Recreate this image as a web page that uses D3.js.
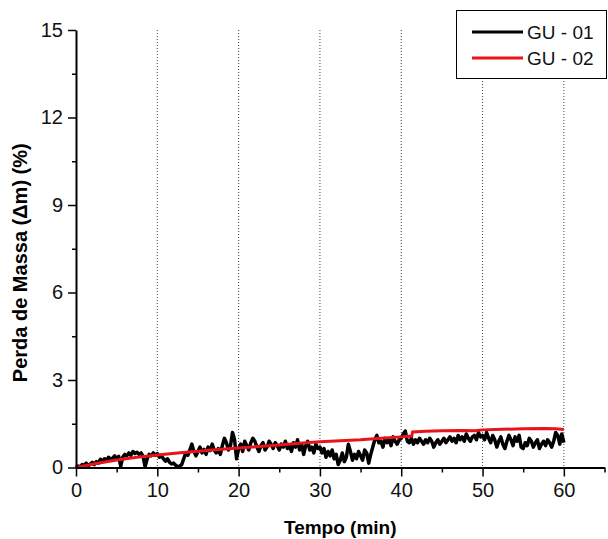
<!DOCTYPE html>
<html>
<head>
<meta charset="utf-8">
<script src="https://cdn.jsdelivr.net/npm/d3@7"></script>
<style>
  body { margin: 0; background: #fff; }
  svg { display: block; font-family: "Liberation Sans", Arial, sans-serif; }
</style>
</head>
<body>
<div id="chart"></div>
<script>
// GU - 01 : one value every 0.25 min
const blackStart = 0;
const blackStep = 0.25;
const blackValues = [
  0.00,0.05,0.02,0.10,0.08,0.15,0.05,0.12,0.18,0.10,0.20,0.15,0.28,0.22,0.30,0.25,0.35,0.28,0.32,0.40,
  0.30,0.38,0.05,0.35,0.45,0.40,0.50,0.42,0.55,0.48,0.52,0.45,0.50,0.38,0.02,0.30,0.45,0.40,0.50,0.42,
  0.48,0.35,0.40,0.30,0.22,0.30,0.18,0.12,0.15,0.08,0.02,0.05,0.10,0.30,0.50,0.42,0.60,0.80,0.55,0.40,
  0.55,0.70,0.50,0.62,0.45,0.70,0.58,0.80,0.60,0.50,0.65,0.45,0.75,1.00,0.85,0.60,0.75,1.20,0.95,0.30,
  0.65,0.80,0.55,0.90,0.75,0.60,0.85,1.00,0.90,0.70,0.55,0.75,0.85,0.60,0.70,0.90,0.80,0.65,0.85,0.75,
  0.60,0.80,0.70,0.90,0.65,0.75,0.55,0.85,0.70,0.95,0.60,0.80,0.45,0.75,0.90,0.60,0.70,0.50,0.80,0.65,
  0.70,0.50,0.65,0.35,0.55,0.40,0.60,0.30,0.45,0.10,0.25,0.50,0.20,0.35,0.80,0.55,0.25,0.45,0.30,0.55,
  0.40,0.25,0.60,0.50,0.15,0.45,0.70,0.95,1.10,0.85,0.90,0.70,1.00,0.85,0.95,0.75,1.05,0.90,0.80,0.95,
  1.00,1.15,1.25,0.90,0.85,1.00,0.80,0.95,0.85,1.00,0.90,0.80,0.95,0.85,1.00,0.90,0.70,0.85,0.95,0.80,
  0.90,1.00,0.85,0.95,1.05,0.90,1.00,0.85,1.10,0.95,1.05,0.90,1.15,1.00,0.90,1.05,1.10,0.95,1.20,1.05,
  1.10,0.95,1.20,1.00,0.85,1.10,0.95,0.70,0.90,1.05,0.80,0.65,0.90,1.10,0.95,0.75,1.05,0.90,1.10,0.70,
  0.65,0.85,0.75,1.00,0.90,0.70,0.85,0.95,0.65,0.80,0.90,0.75,0.95,0.85,0.70,0.90,1.20,1.10,0.80,1.15,
  0.85
];

// GU - 02
const redTime = [0,2.5,5,7.5,10,12.5,15,17.5,20,22.5,25,27.5,30,32.5,35,37.5,40,41.3,41.4,43,45,47.5,49,50,52.5,55,57.5,59,60];
const redValues = [0,0.14,0.26,0.35,0.43,0.50,0.56,0.62,0.67,0.72,0.77,0.83,0.88,0.92,0.95,1.00,1.05,1.08,1.22,1.24,1.26,1.27,1.26,1.29,1.31,1.33,1.34,1.33,1.30];

const xTicks = [0, 10, 20, 30, 40, 50, 60];
const yTicks = [0, 3, 6, 9, 12, 15];
const seriesNames = ["GU - 01", "GU - 02"];
const seriesColors = ["#000000", "#e8141c"];

const W = 608, H = 539;
const plotLeft = 76, plotRight = 604.5, plotTop = 30, plotBottom = 467.5;

const svg = d3.select("#chart").append("svg")
    .attr("width", W)
    .attr("height", H);

const x = d3.scaleLinear().domain([0, 65]).range([plotLeft, plotRight]);
const y = d3.scaleLinear().domain([0, 15]).range([plotBottom, plotTop]);

// dotted vertical grid
svg.append("g")
    .selectAll("line")
    .data(xTicks.filter(d => d > 0))
    .enter()
    .append("line")
    .attr("x1", d => x(d)).attr("x2", d => x(d))
    .attr("y1", plotTop).attr("y2", plotBottom)
    .attr("stroke", "#444")
    .attr("stroke-width", 1)
    .attr("stroke-dasharray", "1,2");

const blackData = blackValues.map((v, i) => [blackStart + i * blackStep, v]);
const redData = redTime.map((t, i) => [t, redValues[i]]);

const line = d3.line().x(d => x(d[0])).y(d => y(d[1]));

svg.append("path")
    .datum(blackData)
    .attr("d", line)
    .attr("fill", "none")
    .attr("stroke", seriesColors[0])
    .attr("stroke-width", 3.5)
    .attr("stroke-linejoin", "round");

svg.append("path")
    .datum(redData)
    .attr("d", line)
    .attr("fill", "none")
    .attr("stroke", seriesColors[1])
    .attr("stroke-width", 3);

// axes: major + minor ticks
const xMinor = d3.range(5, 66, 10);
const yMinor = d3.range(1.5, 15, 3);

svg.append("g")
    .attr("transform", `translate(0,${plotBottom})`)
    .call(d3.axisBottom(x).tickValues(xTicks).tickSize(9).tickSizeOuter(0).tickPadding(6));
svg.append("g")
    .attr("transform", `translate(0,${plotBottom})`)
    .call(d3.axisBottom(x).tickValues(xMinor).tickSize(5).tickSizeOuter(0).tickFormat(""))
    .select(".domain").remove();

svg.append("g")
    .attr("transform", `translate(${plotLeft},0)`)
    .call(d3.axisLeft(y).tickValues(yTicks).tickSize(8).tickSizeOuter(0).tickPadding(5));
svg.append("g")
    .attr("transform", `translate(${plotLeft},0)`)
    .call(d3.axisLeft(y).tickValues(yMinor).tickSize(4).tickSizeOuter(0).tickFormat(""))
    .select(".domain").remove();

svg.selectAll(".domain").attr("stroke", "#000").attr("stroke-width", 2);
svg.selectAll(".tick line").attr("stroke", "#000").attr("stroke-width", 1.5);
svg.selectAll(".tick text")
    .attr("fill", "#111")
    .style("font-size", "20px")
    .style("font-family", "'Liberation Sans', Arial, sans-serif");

// axis titles
svg.append("text")
    .attr("x", (plotLeft + plotRight) / 2)
    .attr("y", 534)
    .attr("text-anchor", "middle")
    .style("font-size", "19px")
    .style("font-weight", "bold")
    .text("Tempo (min)");

svg.append("text")
    .attr("transform", `translate(27,${(plotTop + plotBottom) / 2 + 14}) rotate(-90)`)
    .attr("text-anchor", "middle")
    .style("font-size", "20px")
    .style("font-weight", "bold")
    .text("Perda de Massa (Δm) (%)");

// legend
const legend = svg.append("g");
legend.append("rect")
    .attr("x", 456.5).attr("y", 10.5)
    .attr("width", 150).attr("height", 68)
    .attr("fill", "#fff")
    .attr("stroke", "#000")
    .attr("stroke-width", 1);

seriesNames.forEach((name, i) => {
    const ly = 32 + i * 26;
    legend.append("line")
        .attr("x1", 472).attr("x2", 523)
        .attr("y1", ly).attr("y2", ly)
        .attr("stroke", seriesColors[i])
        .attr("stroke-width", 3);
    legend.append("text")
        .attr("x", 527).attr("y", ly + 7)
        .style("font-size", "19px")
        .attr("fill", "#111")
        .text(name);
});
</script>
</body>
</html>
